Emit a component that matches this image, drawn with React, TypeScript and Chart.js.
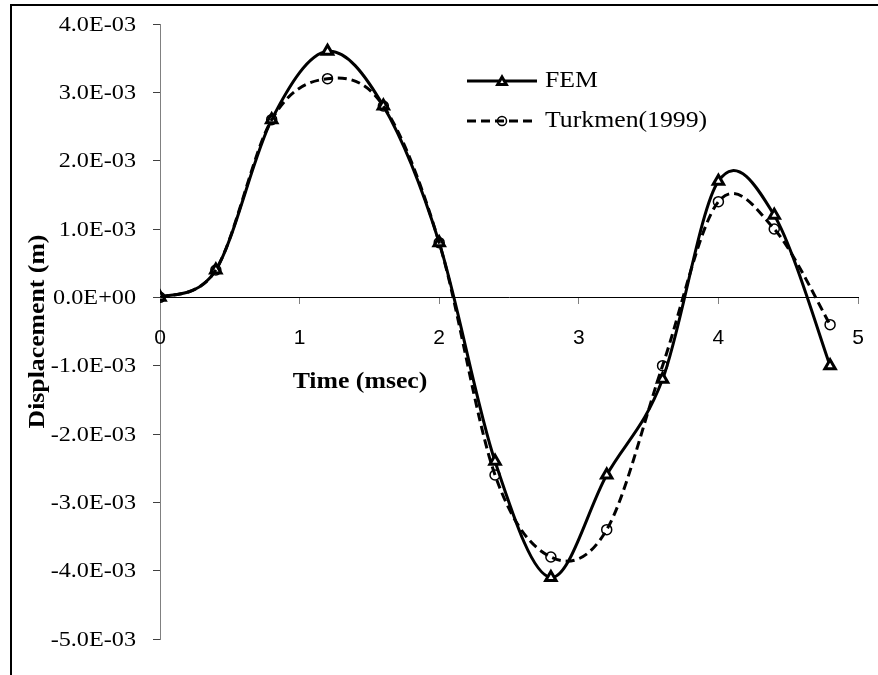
import React, { useEffect, useRef } from 'react';
import { Chart, registerables } from 'chart.js';

Chart.register(...registerables);

// ---- data ----
const timeMs = [0, 0.4, 0.8, 1.2, 1.6, 2.0, 2.4, 2.8, 3.2, 3.6, 4.0, 4.4, 4.8];
const femDisp = [0, 0.0004, 0.0026, 0.0036, 0.0028, 0.0008, -0.0024, -0.0041, -0.0026, -0.0012, 0.0017, 0.0012, -0.001];
const turkmenDisp = [0, 0.0004, 0.0026, 0.0032, 0.0028, 0.0008, -0.0026, -0.0038, -0.0034, -0.001, 0.0014, 0.001, -0.0004];
const xTicks = [0, 1, 2, 3, 4, 5];
const yTicks = [-0.005, -0.004, -0.003, -0.002, -0.001, 0, 0.001, 0.002, 0.003, 0.004];
const seriesNames = ['FEM', 'Turkmen(1999)'];
const xTitle = 'Time (msec)';
const yTitle = 'Displacement (m)';

const SERIF = "'Liberation Serif', 'Times New Roman', serif";
const SANS = "'Liberation Sans', Arial, sans-serif";

function fmtSci(v: number): string {
  if (Math.abs(v) < 1e-12) return '0.0E+00';
  const [m, e] = v.toExponential(1).split('e');
  const n = parseInt(e, 10);
  return m + 'E' + (n < 0 ? '-' : '+') + String(Math.abs(n)).padStart(2, '0');
}

// Excel-like smoothing (uniform Catmull-Rom in pixel space)
const excelSmooth = {
  id: 'excelSmooth',
  beforeDatasetDraw(chart: any, args: any) {
    const meta = chart.getDatasetMeta(args.index);
    const line = meta.dataset;
    if (!line) return;
    line.updateControlPoints(chart.chartArea, meta.indexAxis);
    const pts = meta.data;
    const n = pts.length;
    for (let i = 0; i < n; i++) {
      const p = pts[i];
      const prev = pts[Math.max(0, i - 1)];
      const next = pts[Math.min(n - 1, i + 1)];
      const dx = (next.x - prev.x) / 6;
      const dy = (next.y - prev.y) / 6;
      p.cp1x = p.x - dx;
      p.cp1y = p.y - dy;
      p.cp2x = p.x + dx;
      p.cp2y = p.y + dy;
    }
  },
};

function drawTriangle(ctx: CanvasRenderingContext2D, x: number, y: number, r: number) {
  const a = (2 * Math.PI) / 3;
  ctx.beginPath();
  ctx.moveTo(x, y - r);
  ctx.lineTo(x + Math.sin(a) * r, y - Math.cos(a) * r);
  ctx.lineTo(x + Math.sin(2 * a) * r, y - Math.cos(2 * a) * r);
  ctx.closePath();
}

// draw text with a horizontal stretch (reference glyphs are wider than Times)
function stretchText(
  ctx: CanvasRenderingContext2D,
  text: string,
  x: number,
  y: number,
  sx: number,
  align: CanvasTextAlign
) {
  ctx.save();
  ctx.translate(x, y);
  ctx.scale(sx, 1);
  ctx.textAlign = align;
  ctx.fillText(text, 0, 0);
  ctx.restore();
}

const decorations = {
  id: 'decorations',
  afterDraw(chart: any) {
    const ctx: CanvasRenderingContext2D = chart.ctx;
    const ca = chart.chartArea;
    const ys = chart.scales.y;
    const xs = chart.scales.x;
    ctx.save();
    ctx.fillStyle = '#000';

    // y tick labels
    ctx.font = `22px ${SERIF}`;
    ctx.textBaseline = 'middle';
    yTicks.forEach((v) => {
      stretchText(ctx, fmtSci(v), ca.left - 24, ys.getPixelForValue(v) + 1, 1.1, 'right');
    });

    // x tick labels (below the zero line)
    const zeroY = ys.getPixelForValue(0);
    ctx.font = `21px ${SANS}`;
    ctx.textBaseline = 'middle';
    ctx.textAlign = 'center';
    xTicks.forEach((v) => {
      ctx.fillText(String(v), xs.getPixelForValue(v), zeroY + 41);
    });

    // axis titles
    ctx.font = `bold 23px ${SERIF}`;
    ctx.textBaseline = 'middle';
    stretchText(ctx, xTitle, 360, zeroY + 85, 1.12, 'center');
    ctx.save();
    ctx.translate(44, (ca.top + ca.bottom) / 2);
    ctx.rotate(-Math.PI / 2);
    ctx.textBaseline = 'alphabetic';
    stretchText(ctx, yTitle, 0, 0, 1.12, 'center');
    ctx.restore();

    // legend
    const x0 = 467, x1 = 537, xm = (x0 + x1) / 2, tx = 545;
    const rows = [81, 121];
    ctx.lineWidth = 3;
    ctx.strokeStyle = '#000';
    ctx.setLineDash([]);
    ctx.beginPath();
    ctx.moveTo(x0, rows[0]);
    ctx.lineTo(x1, rows[0]);
    ctx.stroke();
    drawTriangle(ctx, xm, rows[0] + 1, 5);
    ctx.fillStyle = '#fff';
    ctx.fill();
    ctx.lineWidth = 3;
    ctx.stroke();

    ctx.lineWidth = 3;
    ctx.setLineDash([9, 5]);
    ctx.beginPath();
    ctx.moveTo(x0, rows[1]);
    ctx.lineTo(x1, rows[1]);
    ctx.stroke();
    ctx.setLineDash([]);
    ctx.lineWidth = 1.5;
    ctx.beginPath();
    ctx.arc(xm, rows[1], 4.5, 0, Math.PI * 2);
    ctx.stroke();

    ctx.fillStyle = '#000';
    ctx.font = `23px ${SERIF}`;
    ctx.textBaseline = 'middle';
    stretchText(ctx, seriesNames[0], tx, rows[0], 1.12, 'left');
    stretchText(ctx, seriesNames[1], tx, rows[1], 1.12, 'left');
    ctx.restore();
  },
};

export default function App() {
  const ref = useRef<HTMLCanvasElement | null>(null);
  useEffect(() => {
    if (!ref.current) return;
    const chart = new Chart(ref.current, {
      type: 'line',
      data: {
        datasets: [
          {
            label: seriesNames[0],
            data: timeMs.map((t, i) => ({ x: t, y: femDisp[i] })),
            borderColor: '#000',
            borderWidth: 3,
            tension: 0.4,
            pointStyle: 'triangle',
            pointRadius: 6,
            pointBorderWidth: 3,
            pointBorderColor: '#000',
            pointBackgroundColor: '#fff',
            fill: false,
            order: 2,
          },
          {
            label: seriesNames[1],
            data: timeMs.map((t, i) => ({ x: t, y: turkmenDisp[i] })),
            borderColor: '#000',
            borderWidth: 3,
            borderDash: [9, 5],
            tension: 0.4,
            pointStyle: 'circle',
            pointRadius: 5,
            pointBorderWidth: 1.5,
            pointBorderColor: '#000',
            pointBackgroundColor: 'rgba(0,0,0,0)',
            fill: false,
            order: 1,
          },
        ],
      },
      options: {
        responsive: false,
        animation: false,
        layout: { padding: { top: 24, right: 20, bottom: 36, left: 0 } },
        plugins: {
          legend: { display: false },
          tooltip: { enabled: false },
        },
        scales: {
          x: {
            type: 'linear',
            min: 0,
            max: 5,
            position: { y: 0 } as any,
            afterBuildTicks: (s: any) => {
              s.ticks = xTicks.map((v) => ({ value: v }));
            },
            ticks: { display: false },
            grid: { drawOnChartArea: false, tickLength: 6, tickColor: '#808080' },
            border: { color: '#000', width: 1 },
          },
          y: {
            type: 'linear',
            min: -0.005,
            max: 0.004,
            afterBuildTicks: (s: any) => {
              s.ticks = yTicks.map((v) => ({ value: v }));
            },
            afterFit: (s: any) => {
              s.width = 160;
            },
            ticks: { display: false },
            grid: { drawOnChartArea: false, tickLength: 7, tickColor: '#404040' },
            border: { color: '#808080', width: 1 },
          },
        },
      },
      plugins: [excelSmooth, decorations],
    });
    return () => chart.destroy();
  }, []);

  return (
    <div style={{ position: 'absolute', left: 0, top: 0, width: 878, height: 675, overflow: 'hidden', background: '#fff' }}>
      <canvas ref={ref} width={878} height={675} style={{ position: 'absolute', left: 0, top: 0, width: 878, height: 675 }} />
      <div
        style={{
          position: 'absolute',
          left: 10,
          top: 4,
          width: 2000,
          height: 2000,
          borderLeft: '2px solid #000',
          borderTop: '2px solid #000',
          pointerEvents: 'none',
        }}
      />
    </div>
  );
}
